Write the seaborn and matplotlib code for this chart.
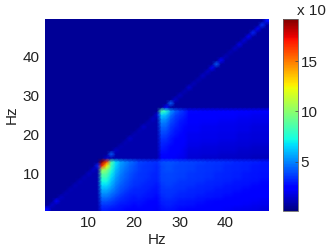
import numpy as np
import matplotlib
matplotlib.use("Agg")
import matplotlib.pyplot as plt
import seaborn as sns

plt.rcParams['font.family'] = ['Liberation Sans', 'DejaVu Sans']

hz_ticks = [10, 20, 30, 40]
cbar_ticks = [5, 10, 15]

# background levels
above_diag = 0.45
tri_low = 0.85    # below diagonal, x < 13
tri_mid = 0.85    # below diagonal, 13 < y <= 26
tri_high = 0.65   # below diagonal, y > 26

# lower band, y = 1..13, x = 13..20
band1_edge = [
    [3.0, 3.0, 2.9, 2.8, 2.7, 2.6, 2.5, 2.4],
    [3.5, 3.5, 3.3, 3.1, 2.9, 2.8, 2.7, 2.6],
    [4.0, 4.0, 3.7, 3.4, 3.2, 3.0, 2.9, 2.8],
    [4.6, 4.6, 4.2, 3.8, 3.4, 3.2, 3.0, 2.9],
    [5.2, 5.2, 4.7, 4.2, 3.8, 3.4, 3.2, 3.1],
    [5.8, 5.8, 5.2, 4.5, 4.0, 3.7, 3.4, 3.2],
    [6.5, 6.5, 5.7, 4.8, 4.2, 3.9, 3.6, 3.4],
    [7.2, 7.2, 6.1, 5.1, 4.5, 4.1, 3.8, 3.5],
    [8.0, 8.0, 6.6, 5.4, 4.7, 4.3, 3.9, 3.6],
    [9.0, 8.8, 7.0, 5.7, 4.9, 4.4, 4.0, 3.7],
    [10.5, 9.8, 7.6, 6.0, 5.1, 4.6, 4.2, 3.9],
    [16.5, 12.5, 8.2, 6.4, 5.3, 4.8, 4.3, 4.0],
    [19.0, 16.0, 8.6, 6.6, 5.5, 5.0, 4.5, 4.2],
]
# rest of lower band, x = 21..49
band1_rows = [2.2, 2.4, 2.5, 2.7, 2.8, 2.9, 3.0, 3.1, 3.2, 3.2, 3.3, 3.3, 3.4]
band1_cols = [0.3, 0.2, 0.1, 0.0, -0.1, 0.5, 0.6, 0.6, 0.5, 0.4,
              0.4, 0.3, 0.3, 0.2, 0.2, 0.1, 0.1, 0.0, 0.0, -0.1,
              -0.1, -0.2, -0.2, -0.3, -0.3, -0.4, -0.4, -0.5, -0.5]

# upper band, y = 14..26, x = 26..31
band2_edge = [
    [2.4, 2.4, 2.2, 2.1, 2.0, 1.9],
    [2.6, 2.6, 2.3, 2.2, 2.1, 2.0],
    [2.8, 2.7, 2.4, 2.3, 2.2, 2.0],
    [3.0, 2.9, 2.6, 2.4, 2.3, 2.1],
    [3.2, 3.1, 2.8, 2.5, 2.4, 2.2],
    [3.4, 3.3, 2.9, 2.6, 2.5, 2.3],
    [3.7, 3.6, 3.1, 2.8, 2.6, 2.4],
    [4.0, 3.9, 3.3, 2.9, 2.7, 2.5],
    [4.4, 4.3, 3.5, 3.1, 2.8, 2.6],
    [4.8, 4.7, 3.8, 3.3, 2.9, 2.7],
    [5.4, 5.2, 4.1, 3.5, 3.1, 2.8],
    [6.4, 6.0, 4.6, 3.7, 3.3, 3.0],
    [8.5, 7.6, 5.3, 4.2, 3.6, 3.2],
]
# rest of upper band, x = 32..49
band2_rows = [1.3, 1.4, 1.5, 1.6, 1.7, 1.8, 1.8, 1.9, 1.9, 2.0, 2.1, 2.2, 2.4]
band2_cols = [0.2, 0.2, 0.2, 0.1, 0.1, 0.1, 0.1, 0.0, 0.0, 0.0,
              0.0, -0.1, -0.1, -0.1, -0.2, -0.2, -0.2, -0.2]

# cells on the diagonal, x = 1..49
diag_vals = [2.6, 1.4, 2.4, 1.2, 1.0, 1.0, 1.1, 1.1, 1.1, 1.2, 1.3, 3.0,
             19.0, 1.4, 4.2, 1.3, 1.0, 1.0, 1.4, 1.0, 1.0, 1.4, 1.0, 1.2, 1.6,
             8.5, 2.4, 4.4, 1.4, 1.2, 1.0, 1.5, 1.1, 1.0, 1.3, 1.3, 2.2, 4.2,
             2.2, 1.1, 1.0, 1.3, 1.9, 1.6, 2.2, 3.2, 2.6, 3.4, 2.8]

n = len(diag_vals)
grid = np.full((n, n), above_diag)
idx = np.arange(n)
cols, rows = np.tril_indices(n, -1)   # row = y, col = x, keep x > y
grid[rows[cols < 13], cols[cols < 13]] = tri_low
keep = (rows >= 13) & (rows < 26)
grid[rows[keep], cols[keep]] = tri_mid
grid[rows[rows >= 26], cols[rows >= 26]] = tri_high

grid[:13, 12:20] = np.array(band1_edge)
grid[:13, 20:] = np.array(band1_rows)[:, None] + np.array(band1_cols)[None, :]
grid[13:26, 25:31] = np.array(band2_edge)
grid[13:26, 31:] = np.array(band2_rows)[:, None] + np.array(band2_cols)[None, :]
grid[idx, idx] = diag_vals

# repeat the border so index equals Hz and smooth shading fills the whole axes
padded = np.pad(grid, 1, mode='edge')

fig = plt.figure(figsize=(3.32, 2.49), dpi=100)
ax = fig.add_axes([45 / 332, 38.3 / 249, 224 / 332, 191.7 / 249])
cax = fig.add_axes([283 / 332, 38 / 249, 15 / 332, 192 / 249])

sns.heatmap(padded, ax=ax, cbar_ax=cax, cmap="jet", vmin=0.07, vmax=19.2,
            xticklabels=False, yticklabels=False, shading='gouraud')
ax.set_xlim(0.5, 49.5)
ax.set_ylim(0.5, 49.5)

ax.set_xticks(hz_ticks)
ax.set_xticklabels(hz_ticks, fontsize=11, color='#222222', rotation=0)
ax.set_yticks(hz_ticks)
ax.set_yticklabels(hz_ticks, fontsize=11, color='#222222', rotation=0)
ax.tick_params(length=0, pad=4)
ax.set_xlabel("Hz", fontsize=11, color='#222222', labelpad=2)
ax.set_ylabel("Hz", fontsize=11, color='#222222', labelpad=3)

cbar = ax.collections[0].colorbar
cbar.set_ticks(cbar_ticks)
cbar.ax.tick_params(labelsize=11, labelcolor='#222222', length=2, width=0.5,
                    direction='in', pad=2, color='#444444')
cbar.outline.set_visible(True)
cbar.outline.set_edgecolor('#666666')
cbar.outline.set_linewidth(0.6)

fig.text(297 / 332, 1 - 11 / 249, "x 10", fontsize=11, color='#222222',
         ha='left', va='center')

fig.savefig("out.png", dpi=100)
